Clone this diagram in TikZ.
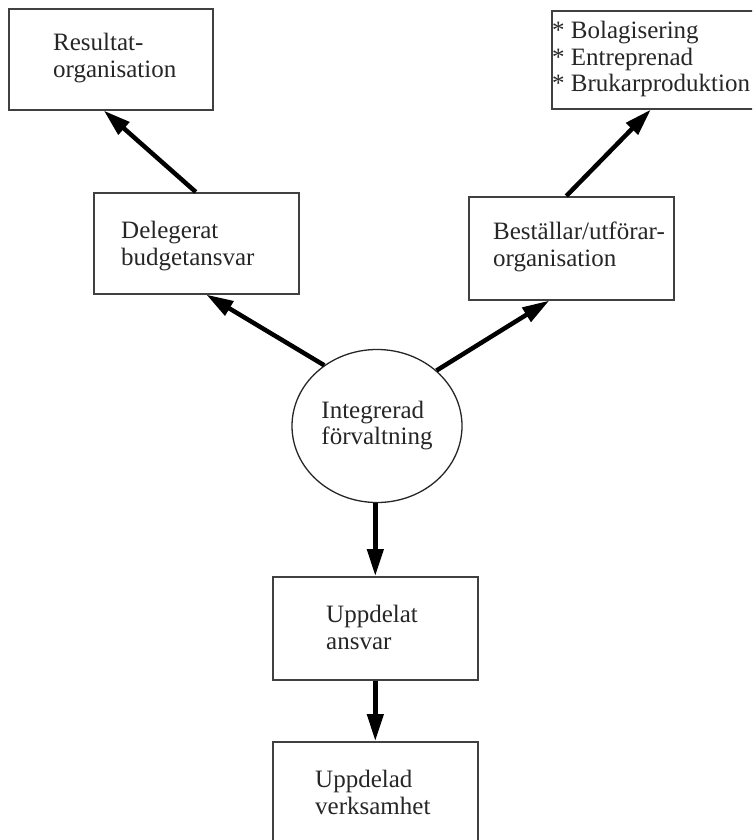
\documentclass[tikz,border=0pt]{standalone}
\usepackage{fontspec}
\setmainfont{Liberation Serif}
\usetikzlibrary{arrows.meta,shapes.geometric}
\begin{document}
\begin{tikzpicture}[x=1pt,y=-1pt,
  box/.style={draw=black!75,line width=1.6pt,rectangle,inner sep=0pt,anchor=north west},
  lbl/.style={anchor=north west,inner sep=0pt,align=left,font=\fontsize{25}{26.5}\selectfont,text=black!85},
  arr/.style={line width=4.5pt,-{Triangle[length=27pt,width=16pt]}},
]
\useasboundingbox (0,0) rectangle (752,840);
\clip (0,0) rectangle (752,840);
% boxes
\node[box,minimum width=204pt,minimum height=101pt] (b1) at (8,8) {};
\node[box,minimum width=219pt,minimum height=98pt] (b2) at (551,10) {};
\node[box,minimum width=205pt,minimum height=101pt] (b3) at (93,192) {};
\node[box,minimum width=205pt,minimum height=103pt] (b4) at (468,196) {};
\node[box,minimum width=205pt,minimum height=103pt] (b5) at (272,576) {};
\node[box,minimum width=205pt,minimum height=120pt] (b6) at (272,741) {};
\node[ellipse,draw=black!85,line width=1.3pt,minimum width=170pt,minimum height=153pt,inner sep=0pt,
      align=center,font=\fontsize{25}{26.5}\selectfont,text=black!85] (c) at (377,426)
      {\begin{tabular}{@{}l@{}}Integrerad\\förvaltning\end{tabular}};
% texts
\node[lbl] (t1) at (53,33) {Resultat-\\organisation};
\node[lbl] (t2) at (552,21) {* Bolagisering\\* Entreprenad\\* Brukarproduktion};
\node[lbl] (t3) at (121,221) {Delegerat\\budgetansvar};
\node[lbl] (t4) at (493,222) {Beställar/utförar-\\organisation};
\node[lbl] (t5) at (326,605) {Uppdelat\\ansvar};
\node[lbl] (t6) at (315,770) {Uppdelad\\verksamhet};
% connectors
\draw[arr] ([xshift=-0.5pt]b3.north) -- ([xshift=-7pt]b1.south);
\draw[arr] ([xshift=-5pt]b4.north) -- ([xshift=-10.5pt]b2.south);
\draw[arr] (c.131.5) -- ([xshift=10pt]b3.south);
\draw[arr] (c.43) -- ([xshift=-22pt]b4.south);
\draw[arr] (b5.north |- c.south) -- (b5.north);
\draw[arr] (b5.south) -- (b6.north);
\end{tikzpicture}
\end{document}
